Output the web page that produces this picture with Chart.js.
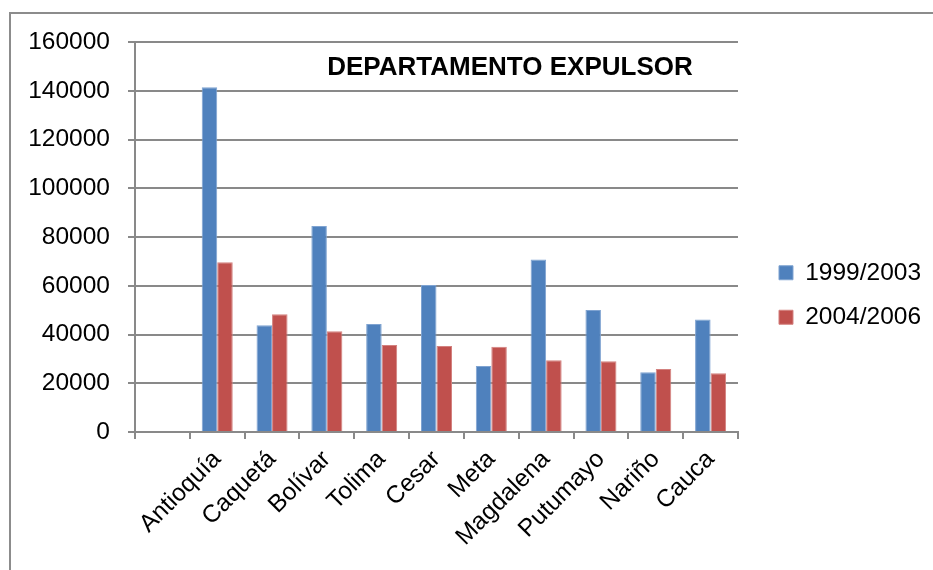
<!DOCTYPE html>
<html>
<head>
<meta charset="utf-8">
<script src="https://cdn.jsdelivr.net/npm/chart.js@4"></script>
<style>
  body { margin: 0; background: #fff; }
  #wrap { position: relative; width: 933px; height: 570px; overflow: hidden; }
  #frame { position: absolute; left: 9px; top: 12px; right: -10px; bottom: -10px;
           border-top: 2px solid #8c8c8c; border-left: 2px solid #8c8c8c; }
  #chart { position: absolute; left: 0; top: 0; }
  #title { position: absolute; left: 310px; width: 400px; top: 53px; text-align: center;
           font: bold 26px/26px "Liberation Sans", Arial, sans-serif; color: #000; }
</style>
</head>
<body>
<div id="wrap">
  <div id="frame"></div>
  <canvas id="chart" width="933" height="570"></canvas>
  <div id="title">DEPARTAMENTO EXPULSOR</div>
</div>
<script>
// departments (first slot is left empty in the original chart)
const departments = ['', 'Antioquía', 'Caquetá', 'Bolívar', 'Tolima', 'Cesar', 'Meta',
                     'Magdalena', 'Putumayo', 'Nariño', 'Cauca'];
const period1 = [null, 141400, 43800, 84500, 44300, 60300, 27100, 70800, 50100, 24500, 46200];
const period2 = [null, 69600, 48300, 41300, 35700, 35300, 35000, 29400, 29000, 25800, 24100];
const seriesNames = ['1999/2003', '2004/2006'];
const yTicks = [0, 20000, 40000, 60000, 80000, 100000, 120000, 140000, 160000];

const axisGray = '#898989';
const font = { family: '"Liberation Sans", Arial, sans-serif', size: 24.5 };

// nudge the legend to the right without moving the plot area
const legendNudge = {
    id: 'legendNudge',
    afterLayout(chart) {
        chart.legend.left += 21;
        chart.legend.right += 21;
    }
};

new Chart(document.getElementById('chart'), {
    type: 'bar',
    data: {
        labels: departments,
        datasets: [
            { label: seriesNames[0], data: period1, backgroundColor: '#4F81BD',
              borderColor: '#7FA3D1', borderWidth: 1 },
            { label: seriesNames[1], data: period2, backgroundColor: '#C0504D',
              borderColor: '#D3817F', borderWidth: 1 }
        ]
    },
    plugins: [legendNudge],
    options: {
        responsive: false,
        animation: false,
        layout: { padding: { left: 0, top: 42, right: 22.95, bottom: 22 } },
        datasets: { bar: { categoryPercentage: 0.566, barPercentage: 1 } },
        plugins: {
            legend: {
                position: 'right',
                labels: { boxWidth: 14, boxHeight: 14, padding: 20, color: '#000', font: font }
            },
            tooltip: { enabled: false }
        },
        scales: {
            x: {
                grid: { drawOnChartArea: false, drawTicks: true, tickLength: 7, color: axisGray, lineWidth: 2 },
                border: { color: axisGray, width: 2 },
                ticks: { color: '#000', font: font, minRotation: 45, maxRotation: 45, padding: 6, autoSkip: false },
                afterFit(scale) { scale.height = 116; }
            },
            y: {
                min: 0,
                max: yTicks[yTicks.length - 1],
                grid: { color: axisGray, lineWidth: 2, tickLength: 7 },
                border: { color: axisGray, width: 2 },
                ticks: { color: '#000', font: font, padding: 18, stepSize: yTicks[1] - yTicks[0],
                         callback: v => String(v) },
                afterFit(scale) { scale.width = 135; }
            }
        }
    }
});
</script>
</body>
</html>
